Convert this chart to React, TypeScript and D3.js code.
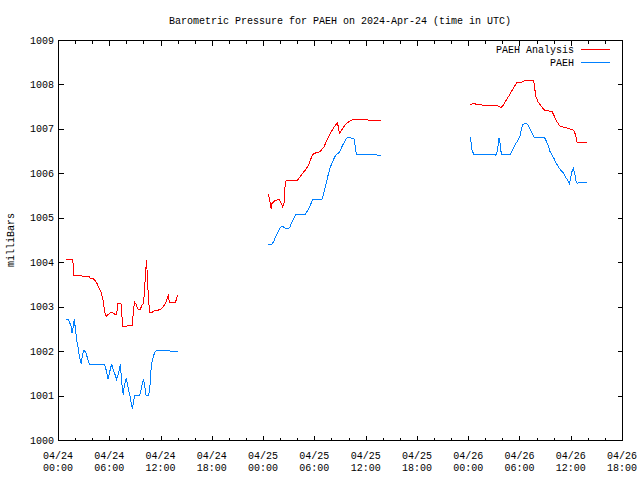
import React from "react";
import * as d3 from "d3";

const title = "Barometric Pressure for PAEH on 2024-Apr-24 (time in UTC)";
const yLabel = "milliBars";
const seriesNames = ["PAEH Analysis", "PAEH"];
const seriesColors = ["#ff0000", "#0080ff"];
const yTickValues = [1000, 1001, 1002, 1003, 1004, 1005, 1006, 1007, 1008, 1009];
const startTime = "2024-04-24T00:00:00Z";
const endTime = "2024-04-26T18:00:00Z";

// [hours since 2024-04-24 00:00 UTC, pressure mb]
const analysisDay1: [number, number][] = [
  [0.94, 1004.07], [1.64, 1004.07], [1.79, 1003.97], [1.87, 1003.71], [2.65, 1003.71],
  [2.93, 1003.67], [3.12, 1003.69], [3.63, 1003.69], [3.78, 1003.64], [4.06, 1003.64],
  [4.29, 1003.6], [4.52, 1003.54], [4.68, 1003.47], [4.88, 1003.39], [5.07, 1003.31],
  [5.23, 1003.19], [5.38, 1003.0], [5.54, 1002.81], [5.69, 1002.79], [5.85, 1002.82],
  [6.16, 1002.87], [6.44, 1002.86], [6.63, 1002.83], [6.86, 1002.83], [7.02, 1003.07],
  [7.37, 1003.07], [7.49, 1002.77], [7.61, 1002.55], [8.0, 1002.55], [8.07, 1002.57],
  [8.66, 1002.57], [8.74, 1002.74], [8.85, 1002.89], [8.93, 1003.11], [9.13, 1003.06],
  [9.32, 1002.96], [9.44, 1002.94], [9.63, 1002.94], [9.83, 1003.04], [10.02, 1003.07],
  [10.1, 1003.34], [10.22, 1003.64], [10.3, 1003.9], [10.34, 1004.05], [10.41, 1003.86],
  [10.53, 1003.37], [10.61, 1003.22], [10.69, 1002.87], [10.92, 1002.86], [11.31, 1002.91],
  [11.7, 1002.92], [12.09, 1002.95], [12.32, 1003.0], [12.56, 1003.07], [12.79, 1003.19],
  [12.91, 1003.25], [13.03, 1003.1], [13.73, 1003.1], [13.85, 1003.16], [14.0, 1003.26],
];

const observedDay1: [number, number][] = [
  [0.94, 1002.72], [1.25, 1002.7], [1.4, 1002.625], [1.56, 1002.535], [1.64, 1002.415],
  [1.79, 1002.55], [1.91, 1002.715], [2.03, 1002.51], [2.18, 1002.25], [2.34, 1002.1],
  [2.5, 1001.875], [2.61, 1001.8], [2.73, 1001.71], [2.85, 1001.91], [3.0, 1002.01],
  [3.2, 1001.995], [3.35, 1001.91], [3.51, 1001.8], [3.7, 1001.69], [4.21, 1001.69],
  [4.6, 1001.71], [4.76, 1001.69], [5.19, 1001.71], [5.46, 1001.69], [5.69, 1001.54],
  [5.85, 1001.365], [5.97, 1001.46], [6.12, 1001.59], [6.28, 1001.71], [6.44, 1001.59],
  [6.63, 1001.5], [6.86, 1001.365], [7.02, 1001.46], [7.18, 1001.59], [7.29, 1001.71],
  [7.41, 1001.425], [7.53, 1001.16], [7.64, 1001.01], [7.72, 1001.16], [7.88, 1001.31],
  [8.0, 1001.39], [8.11, 1001.275], [8.27, 1001.125], [8.42, 1000.99], [8.58, 1000.825],
  [8.7, 1000.69], [8.81, 1000.825], [8.97, 1001.005], [9.56, 1001.005], [9.75, 1001.16],
  [9.98, 1001.365], [10.14, 1001.24], [10.3, 1001.005], [10.61, 1001.005], [10.76, 1001.2],
  [10.84, 1001.5], [11.0, 1001.76], [11.15, 1001.875], [11.31, 1001.965], [11.47, 1002.01],
  [12.87, 1002.01], [13.26, 1001.995], [14.0, 1001.99],
];

const analysisDay2: [number, number][] = [
  [24.61, 1005.535], [24.77, 1005.415], [24.85, 1005.31], [24.93, 1005.21], [25.0, 1005.31],
  [25.36, 1005.38], [25.82, 1005.415], [25.98, 1005.385], [26.14, 1005.325], [26.29, 1005.25],
  [26.45, 1005.34], [26.6, 1005.81], [26.72, 1005.83], [27.93, 1005.83], [28.16, 1005.88],
  [28.55, 1005.98], [28.94, 1006.075], [29.33, 1006.19], [29.72, 1006.39], [29.96, 1006.45],
  [30.31, 1006.465], [30.7, 1006.49], [30.89, 1006.54], [31.13, 1006.6], [31.36, 1006.7],
  [31.6, 1006.79], [31.83, 1006.885], [32.06, 1006.96], [32.3, 1007.035], [32.53, 1007.1],
  [32.69, 1007.14], [32.8, 1007.05], [32.92, 1006.9], [33.16, 1006.96], [33.39, 1007.035],
  [33.7, 1007.11], [34.01, 1007.16], [34.4, 1007.2], [34.72, 1007.22], [36.16, 1007.22],
  [36.35, 1007.19], [36.82, 1007.18], [37.84, 1007.18],
];

const observedDay2: [number, number][] = [
  [24.61, 1004.4], [25.04, 1004.4], [25.28, 1004.485], [25.51, 1004.59], [25.75, 1004.69],
  [25.98, 1004.77], [26.21, 1004.81], [26.45, 1004.785], [26.68, 1004.75], [26.95, 1004.75],
  [27.15, 1004.8], [27.38, 1004.905], [27.62, 1004.995], [27.85, 1005.08], [28.94, 1005.08],
  [29.18, 1005.15], [29.41, 1005.235], [29.65, 1005.34], [29.8, 1005.415], [30.89, 1005.415],
  [31.05, 1005.51], [31.21, 1005.64], [31.4, 1005.79], [31.6, 1005.955], [31.79, 1006.09],
  [31.99, 1006.2], [32.22, 1006.3], [32.41, 1006.375], [32.61, 1006.43], [32.84, 1006.45],
  [33.04, 1006.525], [33.23, 1006.6], [33.47, 1006.69], [33.7, 1006.765], [33.9, 1006.81],
  [34.17, 1006.81], [34.33, 1006.79], [34.64, 1006.78], [34.75, 1006.64], [34.91, 1006.435],
  [37.13, 1006.435], [37.33, 1006.41], [37.84, 1006.41],
];

const analysisDay3: [number, number][] = [
  [48.22, 1007.55], [48.68, 1007.57], [49.04, 1007.55], [49.62, 1007.537], [50.21, 1007.52],
  [50.87, 1007.52], [51.02, 1007.537], [51.34, 1007.537], [51.57, 1007.5], [51.88, 1007.485],
  [52.12, 1007.537], [52.35, 1007.61], [52.58, 1007.69], [52.82, 1007.76], [53.05, 1007.84],
  [53.29, 1007.91], [53.52, 1007.99], [53.75, 1008.05], [54.3, 1008.055], [54.53, 1008.08],
  [55.67, 1008.08], [55.78, 1007.91], [55.94, 1007.725], [56.17, 1007.61], [56.41, 1007.55],
  [56.64, 1007.49], [56.87, 1007.43], [57.11, 1007.41], [57.5, 1007.4], [57.81, 1007.39],
  [58.04, 1007.3], [58.28, 1007.2], [58.51, 1007.125], [58.67, 1007.07], [58.98, 1007.05],
  [59.37, 1007.03], [59.84, 1007.0], [60.31, 1006.975], [60.46, 1006.92], [60.62, 1006.825],
  [60.74, 1006.7], [61.87, 1006.7],
];

const observedDay3: [number, number][] = [
  [48.22, 1006.825], [48.33, 1006.71], [48.45, 1006.525], [48.65, 1006.43], [50.87, 1006.43],
  [51.18, 1006.41], [51.34, 1006.43], [51.45, 1006.56], [51.61, 1006.79], [51.73, 1006.675],
  [51.88, 1006.43], [52.94, 1006.43], [53.13, 1006.5], [53.36, 1006.59], [53.6, 1006.675],
  [53.83, 1006.75], [54.07, 1006.85], [54.22, 1006.975], [54.38, 1007.09], [54.61, 1007.125],
  [54.92, 1007.11], [55.16, 1007.03], [55.39, 1006.94], [55.63, 1006.85], [55.78, 1006.8],
  [56.95, 1006.8], [57.11, 1006.74], [57.34, 1006.64], [57.58, 1006.49], [57.81, 1006.41],
  [58.01, 1006.35], [58.2, 1006.26], [58.43, 1006.19], [58.67, 1006.11], [58.98, 1006.04],
  [59.21, 1005.99], [59.45, 1005.9], [59.68, 1005.83], [59.84, 1005.775], [59.99, 1005.89],
  [60.15, 1006.04], [60.31, 1006.11], [60.46, 1006.0], [60.62, 1005.83], [60.74, 1005.775],
  [61.24, 1005.8], [61.87, 1005.8],
];

const analysisSegments = [analysisDay1, analysisDay2, analysisDay3];
const observedSegments = [observedDay1, observedDay2, observedDay3];

const W = 640;
const H = 480;
const M = { left: 58, right: 622, top: 40, bottom: 440 };
const FONT = "'Liberation Mono', 'DejaVu Sans Mono', monospace";

export default function App() {
  const t0 = new Date(startTime);
  const t1 = new Date(endTime);
  const x = d3.scaleUtc().domain([t0, t1]).range([M.left, M.right]);
  const y = d3.scaleLinear().domain([1000, 1009]).range([M.bottom, M.top]);
  const toDate = (h: number) => new Date(t0.getTime() + h * 3600 * 1000);

  const line = d3
    .line<[number, number]>()
    .x((d) => x(toDate(d[0])))
    .y((d) => y(d[1]));

  const majorTicks = d3.utcHour.every(6)!.range(t0, new Date(t1.getTime() + 1));
  const minorTicks = d3
    .utcHour.every(2)!
    .range(t0, new Date(t1.getTime() + 1))
    .filter((d) => d.getUTCHours() % 6 !== 0);
  const fmtDate = d3.utcFormat("%m/%d");
  const fmtTime = d3.utcFormat("%H:%M");

  const px = (v: number) => Math.round(v) + 0.5;

  return (
    <svg
      width={W}
      height={H}
      style={{ position: "absolute", left: 0, top: 0, background: "#fff" }}
      fontFamily={FONT}
      fontSize={10}
    >
      <rect x={0} y={0} width={W} height={H} fill="#fff" />
      <text x={(M.left + M.right) / 2} y={20} textAnchor="middle" dy="0.35em" fill="#000">
        {title}
      </text>
      <text
        transform={`translate(10,${(M.top + M.bottom) / 2}) rotate(-90)`}
        textAnchor="middle"
        dy="0.35em"
        fill="#000"
      >
        {yLabel}
      </text>

      <g shapeRendering="crispEdges" stroke="#000" strokeWidth={1}>
        {yTickValues.map((v) => (
          <g key={v}>
            <line x1={px(M.left)} x2={px(M.left) + 5} y1={px(y(v))} y2={px(y(v))} />
            <line x1={px(M.right)} x2={px(M.right) - 5} y1={px(y(v))} y2={px(y(v))} />
          </g>
        ))}
        {majorTicks.map((d) => (
          <g key={"M" + d.getTime()}>
            <line x1={px(x(d))} x2={px(x(d))} y1={px(M.bottom)} y2={px(M.bottom) - 5} />
            <line x1={px(x(d))} x2={px(x(d))} y1={px(M.top)} y2={px(M.top) + 5} />
          </g>
        ))}
        {minorTicks.map((d) => (
          <g key={"m" + d.getTime()}>
            <line x1={px(x(d))} x2={px(x(d))} y1={px(M.bottom)} y2={px(M.bottom) - 3} />
            <line x1={px(x(d))} x2={px(x(d))} y1={px(M.top)} y2={px(M.top) + 3} />
          </g>
        ))}
        <rect
          x={px(M.left)}
          y={px(M.top)}
          width={Math.round(M.right) - Math.round(M.left)}
          height={Math.round(M.bottom) - Math.round(M.top)}
          fill="none"
        />
      </g>

      {yTickValues.map((v) => (
        <text key={"yl" + v} x={M.left - 4} y={y(v)} dy="0.35em" textAnchor="end" fill="#000">
          {v}
        </text>
      ))}
      {majorTicks.map((d) => (
        <g key={"xl" + d.getTime()}>
          <text x={x(d)} y={455} dy="0.35em" textAnchor="middle" fill="#000">
            {fmtDate(d)}
          </text>
          <text x={x(d)} y={467} dy="0.35em" textAnchor="middle" fill="#000">
            {fmtTime(d)}
          </text>
        </g>
      ))}

      <g fill="none" strokeWidth={1} shapeRendering="crispEdges">
        {analysisSegments.map((seg, i) => (
          <path key={"a" + i} d={line(seg) || ""} stroke={seriesColors[0]} />
        ))}
        {observedSegments.map((seg, i) => (
          <path key={"o" + i} d={line(seg) || ""} stroke={seriesColors[1]} />
        ))}
      </g>

      {seriesNames.map((name, i) => (
        <g key={name}>
          <text x={574} y={49 + i * 13} dy="0.35em" textAnchor="end" fill="#000">
            {name}
          </text>
          <line
            x1={581}
            x2={610}
            y1={49.5 + i * 13}
            y2={49.5 + i * 13}
            stroke={seriesColors[i]}
            strokeWidth={1}
            shapeRendering="crispEdges"
          />
        </g>
      ))}
    </svg>
  );
}
